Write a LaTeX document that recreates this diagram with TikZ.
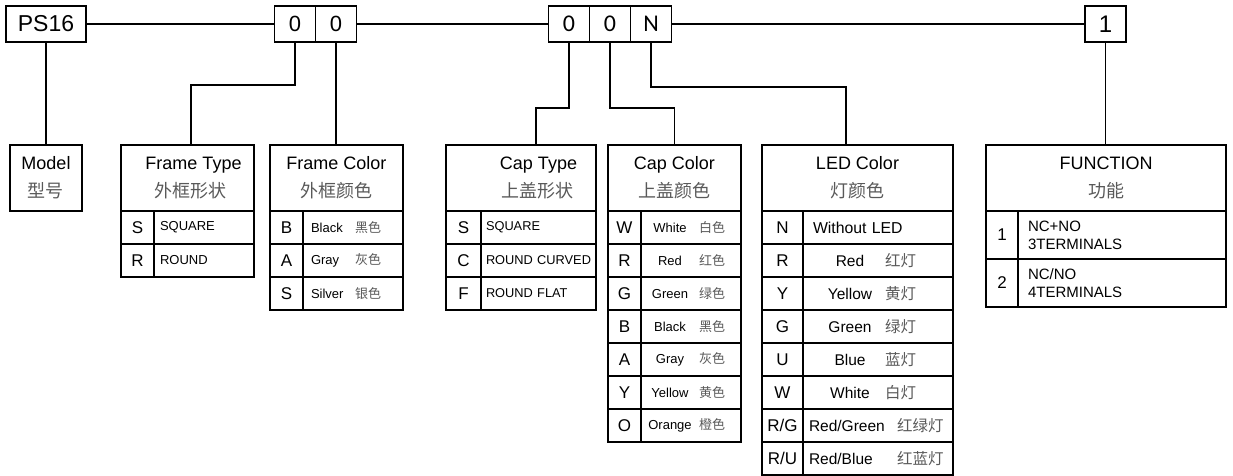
\documentclass[tikz,border=0pt]{standalone}
\usepackage{fontspec}
\setmainfont{Liberation Sans}
\newfontfamily\cjk{Noto Sans CJK SC}
\newfontfamily\carlito{Carlito}
\usepackage{tikz}
\usetikzlibrary{positioning}

\newcommand{\zh}[1]{{\cjk\color{black!65}#1}}

\begin{document}
\begin{tikzpicture}[
    x=1pt, y=-1pt,
    every node/.style={color=black},
    digit/.style={draw, rectangle, outer sep=0pt, inner sep=0pt,
                  minimum width=41pt, minimum height=36pt,
                  font=\fontsize{22}{24}\selectfont},
    digitc/.style={digit, font=\carlito\fontsize{24}{26}\selectfont},
    headbox/.style={draw, rectangle, outer sep=0pt, inner sep=0pt,
                    minimum height=66pt, align=center,
                    font=\fontsize{18}{28}\selectfont},
    cellkey/.style={draw, rectangle, outer sep=0pt, inner sep=0pt,
                    minimum height=33pt, minimum width=#1,
                    font=\fontsize{17}{19}\selectfont},
    cellval/.style={draw, rectangle, outer sep=0pt, inner xsep=0pt, inner ysep=0pt,
                    minimum height=33pt, text width=#1, align=left,
                    font=\fontsize{13}{15}\selectfont},
    link/.style={color=black, line width=1.4pt},
    line width=1.4pt
]
\useasboundingbox (0,0) rectangle (1233,476);

% =========================================================
% TOP: part number code
% =========================================================
\node[digit, minimum width=80pt, font=\fontsize{23}{25}\selectfont] (ps) at (46,24) {PS16};

\node[digit] (a1) at (295,24) {0};
\node[digit, right=0pt of a1] (a2) {0};

\node[digitc] (b1) at (569,24) {0};
\node[digitc, right=0pt of b1] (b2) {0};
\node[digitc, right=0pt of b2] (b3) {N};

\node[digit, font=\fontsize{24}{26}\selectfont] (f1) at (1105.5,24) {1};

% =========================================================
% MODEL
% =========================================================
\node[headbox, minimum width=72pt] (model) at (46,178) {Model\\\zh{型号}};

% =========================================================
% FRAME TYPE
% =========================================================
\node[headbox, minimum width=133pt] (fthead) at (187.5,178)
    {\hspace*{12pt}Frame Type\\\hspace*{6pt}\zh{外框形状}};
\node[cellkey=33pt, anchor=north west] (ftS) at (fthead.south west) {S};
\node[cellkey=33pt, below=0pt of ftS] (ftR) {R};
\node[cellval=100pt, right=0pt of ftS] (ftSv) {\hspace*{6pt}SQUARE};
\node[cellval=100pt, right=0pt of ftR] (ftRv) {\hspace*{6pt}ROUND};

% =========================================================
% FRAME COLOR
% =========================================================
\node[headbox, minimum width=133pt] (fchead) at (336.5,178) {Frame Color\\\zh{外框颜色}};
\node[cellkey=33pt, anchor=north west] (fcB) at (fchead.south west) {B};
\node[cellkey=33pt, below=0pt of fcB] (fcA) {A};
\node[cellkey=33pt, below=0pt of fcA] (fcS) {S};
\node[cellval=100pt, right=0pt of fcB] (fcBv) {\hspace*{8pt}\makebox[44pt][l]{Black}\zh{黑色}};
\node[cellval=100pt, right=0pt of fcA] (fcAv) {\hspace*{8pt}\makebox[44pt][l]{Gray}\zh{灰色}};
\node[cellval=100pt, right=0pt of fcS] (fcSv) {\hspace*{8pt}\makebox[44pt][l]{Silver}\zh{银色}};

% =========================================================
% CAP TYPE
% =========================================================
\node[headbox, minimum width=150pt] (cthead) at (521,178)
    {\hspace*{35pt}Cap Type\\\hspace*{33pt}\zh{上盖形状}};
\node[cellkey=35pt, anchor=north west] (ctS) at (cthead.south west) {S};
\node[cellkey=35pt, below=0pt of ctS] (ctC) {C};
\node[cellkey=35pt, below=0pt of ctC] (ctF) {F};
\node[cellval=115pt, right=0pt of ctS, font=\fontsize{12.8}{15}\selectfont] (ctSv) {\hspace*{5pt}SQUARE};
\node[cellval=115pt, right=0pt of ctC, font=\fontsize{12.8}{15}\selectfont] (ctCv) {\hspace*{5pt}ROUND CURVED};
\node[cellval=115pt, right=0pt of ctF, font=\fontsize{12.8}{15}\selectfont] (ctFv) {\hspace*{5pt}ROUND FLAT};

% =========================================================
% CAP COLOR
% =========================================================
\node[headbox, minimum width=133pt] (cchead) at (674.5,178) {Cap Color\\\zh{上盖颜色}};
\node[cellkey=33pt, anchor=north west] (ccW) at (cchead.south west) {W};
\node[cellkey=33pt, below=0pt of ccW] (ccR) {R};
\node[cellkey=33pt, below=0pt of ccR] (ccG) {G};
\node[cellkey=33pt, below=0pt of ccG] (ccB) {B};
\node[cellkey=33pt, below=0pt of ccB] (ccA) {A};
\node[cellkey=33pt, below=0pt of ccA] (ccY) {Y};
\node[cellkey=33pt, below=0pt of ccY] (ccO) {O};
\node[cellval=100pt, right=0pt of ccW] (ccWv) {\makebox[58pt][c]{White}\zh{白色}};
\node[cellval=100pt, right=0pt of ccR] (ccRv) {\makebox[58pt][c]{Red}\zh{红色}};
\node[cellval=100pt, right=0pt of ccG] (ccGv) {\makebox[58pt][c]{Green}\zh{绿色}};
\node[cellval=100pt, right=0pt of ccB] (ccBv) {\makebox[58pt][c]{Black}\zh{黑色}};
\node[cellval=100pt, right=0pt of ccA] (ccAv) {\makebox[58pt][c]{Gray}\zh{灰色}};
\node[cellval=100pt, right=0pt of ccY] (ccYv) {\makebox[58pt][c]{Yellow}\zh{黄色}};
\node[cellval=100pt, right=0pt of ccO] (ccOv) {\makebox[58pt][c]{Orange}\zh{橙色}};

% =========================================================
% LED COLOR
% =========================================================
\node[headbox, minimum width=191pt] (ledhead) at (857.5,178) {LED Color\\\zh{灯颜色}};
\node[cellkey=41pt, anchor=north west] (ledN) at (ledhead.south west) {N};
\node[cellkey=41pt, below=0pt of ledN] (ledR) {R};
\node[cellkey=41pt, below=0pt of ledR] (ledY) {Y};
\node[cellkey=41pt, below=0pt of ledY] (ledG) {G};
\node[cellkey=41pt, below=0pt of ledG] (ledU) {U};
\node[cellkey=41pt, below=0pt of ledU] (ledW) {W};
\node[cellkey=41pt, below=0pt of ledW] (ledRG) {R/G};
\node[cellkey=41pt, below=0pt of ledRG] (ledRU) {R/U};
\node[cellval=150pt, right=0pt of ledN, font=\fontsize{15.8}{18}\selectfont] (ledNv) {\hspace*{10pt}Without LED};
\node[cellval=150pt, right=0pt of ledR, font=\fontsize{15.5}{18}\selectfont] (ledRv) {\hspace*{12pt}\makebox[70pt][c]{Red}\zh{红灯}};
\node[cellval=150pt, right=0pt of ledY, font=\fontsize{15.5}{18}\selectfont] (ledYv) {\hspace*{12pt}\makebox[70pt][c]{Yellow}\zh{黄灯}};
\node[cellval=150pt, right=0pt of ledG, font=\fontsize{15.5}{18}\selectfont] (ledGv) {\hspace*{12pt}\makebox[70pt][c]{Green}\zh{绿灯}};
\node[cellval=150pt, right=0pt of ledU, font=\fontsize{15.5}{18}\selectfont] (ledUv) {\hspace*{12pt}\makebox[70pt][c]{Blue}\zh{蓝灯}};
\node[cellval=150pt, right=0pt of ledW, font=\fontsize{15.5}{18}\selectfont] (ledWv) {\hspace*{12pt}\makebox[70pt][c]{White}\zh{白灯}};
\node[cellval=150pt, right=0pt of ledRG, font=\fontsize{15.5}{18}\selectfont] (ledRGv) {\hspace*{6pt}\makebox[88pt][l]{Red/Green}\zh{红绿灯}};
\node[cellval=150pt, right=0pt of ledRU, font=\fontsize{15.5}{18}\selectfont] (ledRUv) {\hspace*{6pt}\makebox[88pt][l]{Red/Blue}\zh{红蓝灯}};

% =========================================================
% FUNCTION
% =========================================================
\node[headbox, minimum width=240pt] (fnhead) at (1106,178) {FUNCTION\\\zh{功能}};
\node[cellkey=32pt, minimum height=48pt, anchor=north west] (fn1) at (fnhead.south west) {1};
\node[cellkey=32pt, minimum height=48pt, below=0pt of fn1] (fn2) {2};
\node[cellval=208pt, minimum height=48pt, right=0pt of fn1, font=\fontsize{15}{18}\selectfont] (fn1v)
    {\hspace*{10pt}NC+NO\\\hspace*{10pt}3TERMINALS};
\node[cellval=208pt, minimum height=48pt, right=0pt of fn2, font=\fontsize{15}{18}\selectfont] (fn2v)
    {\hspace*{10pt}NC/NO\\\hspace*{10pt}4TERMINALS};

% =========================================================
% CONNECTORS
% =========================================================
% main code line
\draw[link] (ps.east) -- (a1.west);
\draw[link] (a2.east) -- (b1.west);
\draw[link] (b3.east) -- (f1.west);

% code digits down to their tables
\draw[link] (ps.south) -- (model.north);
\draw[link] (a1.south) -- ++(0,43) -| ([xshift=3.5pt]fthead.north);
\draw[link] (a2.south) -- (a2.south |- fchead.north);
\draw[link] (b1.south) -- ++(0,66) -| ([xshift=15pt]cthead.north);
\draw[link] (b2.south) -- ++(0,66) -| (cchead.north);
\draw[link] (b3.south) -- ++(0,45) -| ([xshift=-11.5pt]ledhead.north);
\draw[link] (f1.south) -- (f1.south |- fnhead.north);

\end{tikzpicture}
\end{document}
